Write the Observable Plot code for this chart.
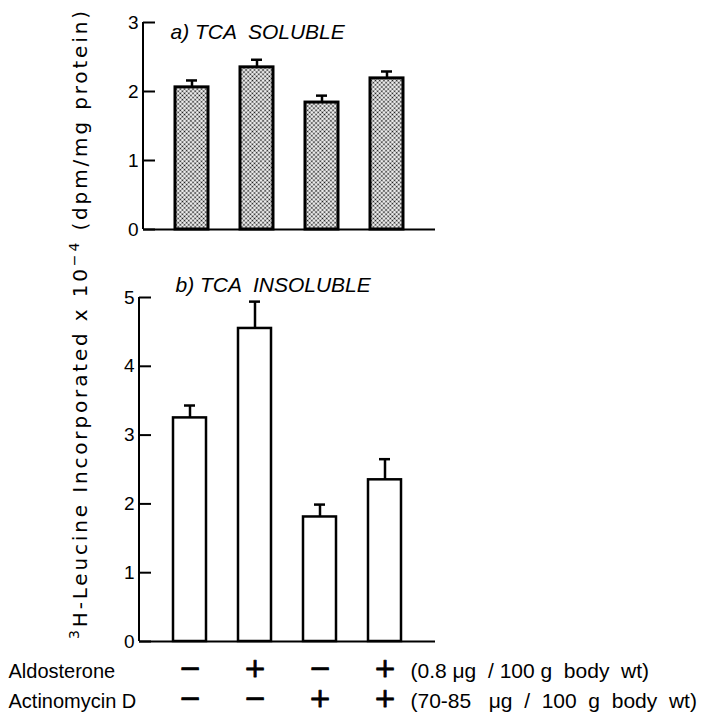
<!DOCTYPE html>
<html><head><meta charset="utf-8">
<script src="https://cdn.jsdelivr.net/npm/d3@7"></script>
<script src="https://cdn.jsdelivr.net/npm/@observablehq/plot@0.6"></script>
<style>
body{margin:0;background:#fff;}
#wrap{position:relative;width:707px;height:724px;font-family:"Liberation Sans",Arial,sans-serif;background:#fff;}
#wrap > div, #wrap > svg{position:absolute;left:0;}
</style></head><body>
<div id="wrap"><div id="a" style="top:0"></div><div id="b" style="top:240px"></div></div>
<script>
// ---- data ----
const conditions = ["c1", "c2", "c3", "c4"];
const aldosterone = ["−", "+", "−", "+"];
const actinomycin = ["−", "−", "+", "+"];
const soluble = [2.06, 2.35, 1.84, 2.19];
const solubleErr = [0.10, 0.11, 0.10, 0.10];
const insoluble = [3.25, 4.55, 1.81, 2.35];
const insolubleErr = [0.18, 0.39, 0.18, 0.30];
const ticksA = [0, 1, 2, 3];
const ticksB = [0, 1, 2, 3, 4, 5];
const titleA = "a) TCA  SOLUBLE";
const titleB = "b) TCA  INSOLUBLE";
const rowLabels = ["Aldosterone", "Actinomycin D"];
const doses = ["(0.8 μg  / 100 g  body  wt)", "(70-85   μg  /  100  g  body  wt)"];

const ns = "http://www.w3.org/2000/svg";
const dataA = conditions.map((c, i) => ({c, v: soluble[i], hi: soluble[i] + solubleErr[i]}));
const dataB = conditions.map((c, i) => ({c, v: insoluble[i], hi: insoluble[i] + insolubleErr[i]}));

function axisLine(index, scales, values, dims) {
  const l = document.createElementNS(ns, "line");
  l.setAttribute("x1", dims.marginLeft); l.setAttribute("x2", dims.marginLeft);
  l.setAttribute("y1", dims.marginTop); l.setAttribute("y2", dims.height - dims.marginBottom);
  l.setAttribute("stroke", "#000"); l.setAttribute("stroke-width", 2);
  return l;
}
function defs() {
  const d = document.createElementNS(ns, "defs");
  d.innerHTML = `<pattern id="stip" width="3" height="3" patternUnits="userSpaceOnUse" patternTransform="rotate(45)">
    <rect width="3" height="3" fill="#fff"/><circle cx="1.5" cy="1.5" r="1.0" fill="#111"/></pattern>`;
  return d;
}
const common = {
  width: 707, marginLeft: 0, marginRight: 272,
  style: {fontFamily: "'Liberation Sans', Arial, sans-serif", background: "transparent", overflow: "visible", color: "#000"}
};
const signFont = "'DejaVu Sans', sans-serif";

const plotA = Plot.plot({
  ...common, height: 240, marginTop: 22, marginBottom: 11, marginLeft: 143,
  x: {domain: conditions, padding: 0.485, axis: null},
  y: {domain: [0, 3], axis: null},
  marks: [
    defs,
    Plot.ruleX(dataA, {x: "c", y1: "v", y2: "hi", strokeWidth: 2.5}),
    Plot.tickY(dataA, {x: "c", y: "hi", strokeWidth: 2.5, insetLeft: 11, insetRight: 11}),
    Plot.barY(dataA, {x: "c", y: "v", fill: "url(#stip)", stroke: "#000", strokeWidth: 3}),
    Plot.ruleY([0], {strokeWidth: 2}),
    axisLine,
    Plot.axisY({ticks: ticksA, tickSize: -12, tickPadding: 17, fontSize: 19, strokeWidth: 2, tickFormat: d => d}),
    Plot.text([titleA], {frameAnchor: "top-left", dx: 27, dy: 2, textAnchor: "start", fontSize: 21, fontStyle: "italic"})
  ]
});

const plotB = Plot.plot({
  ...common, height: 484, marginTop: 57, marginBottom: 83, marginLeft: 139,
  x: {domain: conditions, padding: 0.485, axis: null},
  y: {domain: [0, 5], axis: null},
  marks: [
    Plot.ruleX(dataB, {x: "c", y1: "v", y2: "hi", strokeWidth: 2.5}),
    Plot.tickY(dataB, {x: "c", y: "hi", strokeWidth: 2.5, insetLeft: 11, insetRight: 11}),
    Plot.barY(dataB, {x: "c", y: "v", fill: "#fff", stroke: "#000", strokeWidth: 2.5}),
    Plot.ruleY([0], {strokeWidth: 2}),
    axisLine,
    Plot.axisY({ticks: ticksB, tickSize: -12, tickPadding: 17, fontSize: 19, strokeWidth: 2, tickFormat: d => d}),
    Plot.text([titleB], {frameAnchor: "top-left", dx: 36, dy: -20, textAnchor: "start", fontSize: 21, fontStyle: "italic"}),
    Plot.text(conditions, {x: d => d, text: (d, i) => aldosterone[i], frameAnchor: "bottom", dy: 35, fontSize: 27, fontFamily: signFont, fill: "#000", stroke: "#000", strokeWidth: 0.8}),
    Plot.text(conditions, {x: d => d, text: (d, i) => actinomycin[i], frameAnchor: "bottom", dy: 65, fontSize: 27, fontFamily: signFont, fill: "#000", stroke: "#000", strokeWidth: 0.8}),
    Plot.text([rowLabels[0]], {frameAnchor: "bottom-left", dx: -131, dy: 36, textAnchor: "start", fontSize: 20}),
    Plot.text([rowLabels[1]], {frameAnchor: "bottom-left", dx: -131, dy: 66, textAnchor: "start", fontSize: 20}),
    Plot.text([doses[0]], {frameAnchor: "bottom-right", dx: -25, dy: 36, textAnchor: "start", fontSize: 21}),
    Plot.text([doses[1]], {frameAnchor: "bottom-right", dx: -25, dy: 66, textAnchor: "start", fontSize: 21})
  ]
});

document.getElementById("a").appendChild(plotA);
document.getElementById("b").appendChild(plotB);

// y-axis title spanning both panels
const t = d3.select("#wrap").append("svg").attr("width", 707).attr("height", 724).style("top", "0px").style("pointer-events", "none")
  .append("text").attr("transform", "translate(87,325) rotate(-90)").attr("text-anchor", "middle")
  .attr("font-family", "'DejaVu Sans', sans-serif").attr("font-size", 20)
  .attr("textLength", 628).attr("lengthAdjust", "spacing");
t.append("tspan").attr("font-size", 14).attr("dy", -8).text("3");
t.append("tspan").attr("dy", 8).text("H-Leucine  Incorporated  x 10");
t.append("tspan").attr("font-size", 14).attr("dy", -8).text("−4");
t.append("tspan").attr("dy", 8).text(" (dpm/mg  protein)");
</script>
</body></html>
